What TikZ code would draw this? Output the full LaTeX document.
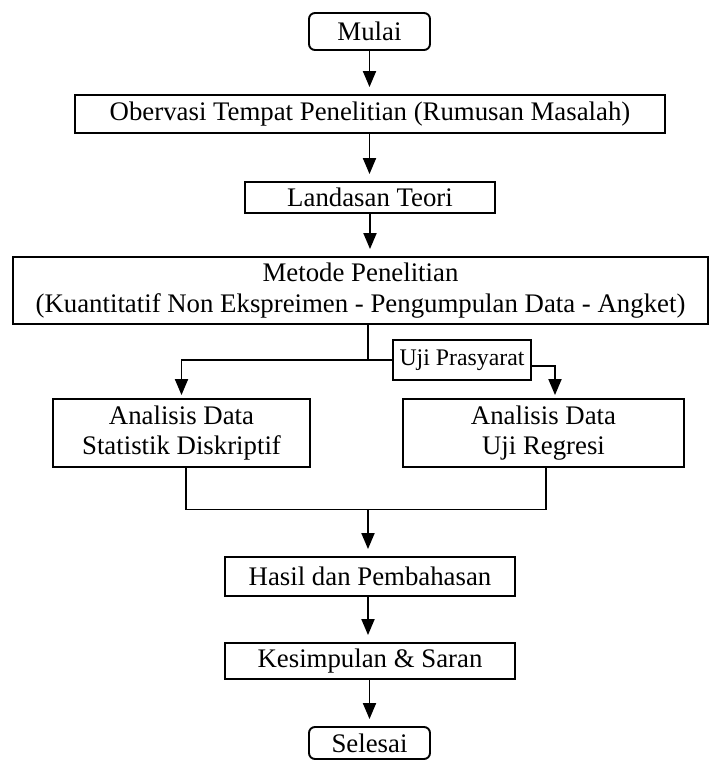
\documentclass[tikz,border=0pt]{standalone}
\usepackage{fontspec}
\setmainfont{Liberation Serif}
\usetikzlibrary{arrows.meta, positioning, calc}

\begin{document}
\begin{tikzpicture}[x=1pt, y=-1pt,
    proc/.style={draw, line width=1.9pt, inner sep=0pt, align=center,
                 font=\fontsize{26.8}{30.5}\selectfont},
    term/.style={proc, rounded corners=6pt},
    cond/.style={draw, line width=1.9pt, inner sep=0pt,
                 font=\fontsize{23.8}{28}\selectfont},
    link/.style={line width=1.9pt},
    flow/.style={->, line width=1.9pt, shorten >=7pt},
    >={Triangle[length=16pt, width=13pt]}
]
\useasboundingbox (0,0) rectangle (711,760);
% ============== main column ==================
\node[term, minimum width=121, minimum height=37] (mulai) at (369.5,31.5) {Mulai};
\node[proc, minimum width=590, minimum height=38] (obs) at (370,114)
  {Obervasi Tempat Penelitian (Rumusan Masalah)};
\node[proc, minimum width=250, minimum height=31] (teori) at (370,197.5) {Landasan Teori};
\node[proc, minimum width=695, minimum height=67] (metode) at (360.5,290.5)
  {Metode Penelitian\\(Kuantitatif Non Ekspreimen - Pengumpulan Data - Angket)};
\draw[flow] (mulai.south) -- (mulai.south |- obs.north);
\draw[flow] (obs.south -| mulai.south) -- (mulai.south |- teori.north);
\draw[flow] (teori.south) -- (teori.south |- metode.north);
% ============== split into two analyses ==================
\node[cond, minimum width=138, minimum height=40] (uji) at (462,360) {Uji Prasyarat};
\node[proc, minimum width=257, minimum height=68] (anaL) at (181.5,433)
  {Analisis Data\\Statistik Diskriptif};
\node[proc, minimum width=281, minimum height=68] (anaR) at (543.5,433)
  {Analisis Data\\Uji Regresi};
\coordinate (split) at (368,360);
\draw[link] (metode.south -| split) -- (split);
\draw[flow, shorten >=3pt] (uji.west) -| (anaL.north);
\draw[flow, shorten >=3pt] ([yshift=-6pt]uji.east) -| ([xshift=11.5pt]anaR.north);
% ============== merge and finish ==================
\node[proc, minimum width=290, minimum height=39] (hasil) at (370,576.5) {Hasil dan Pembahasan};
\node[proc, minimum width=290, minimum height=36] (simpul) at (370,661) {Kesimpulan \& Saran};
\node[term, minimum width=121, minimum height=32] (selesai) at (369.5,743) {Selesai};
\coordinate (join) at (368,509.5);
\draw[link] ([xshift=4.5pt]anaL.south) |- (join) -| ([xshift=2.5pt]anaR.south);
\draw[flow] (join) -- (join |- hasil.north);
\draw[flow] (hasil.south -| join) -- (join |- simpul.north);
\draw[flow] (simpul.south -| selesai.south) -- (selesai.north);
\end{tikzpicture}
\end{document}
